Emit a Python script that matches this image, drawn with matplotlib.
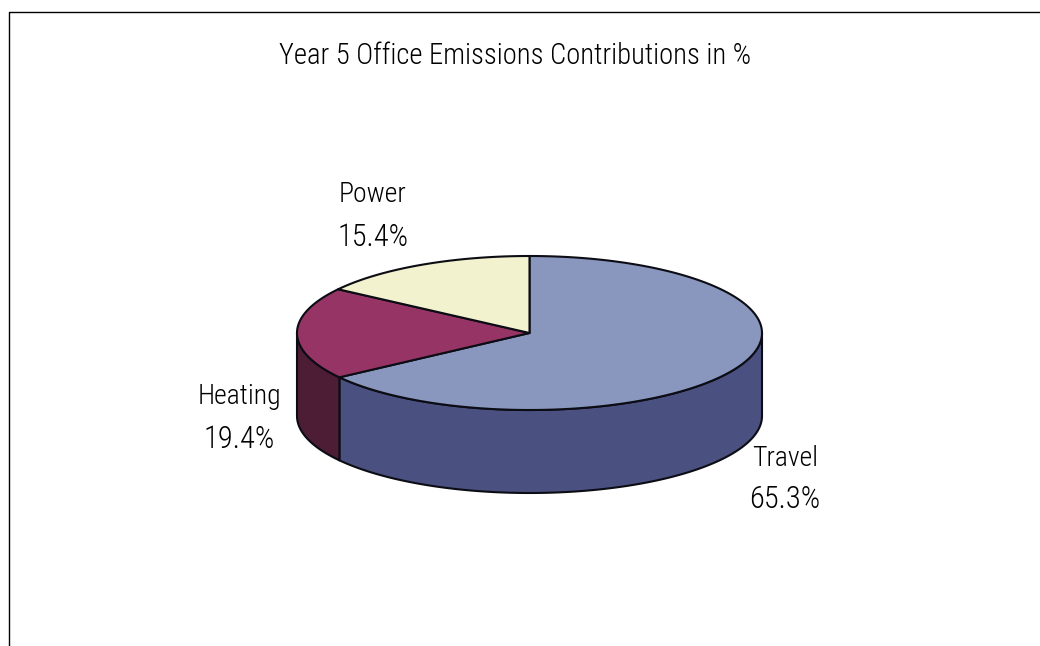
import numpy as np
import matplotlib
matplotlib.use("Agg")
import matplotlib.pyplot as plt
from matplotlib import font_manager as fm
from matplotlib.patches import Polygon

title = "Year 5 Office Emissions Contributions in %"
categories = ["Travel", "Heating", "Power"]
values = [65.3, 19.4, 15.4]
value_labels = ["65.3%", "19.4%", "15.4%"]
top_colors = ["#8997BE", "#963565", "#F2F2CE"]
side_colors = ["#4A5080", "#4D1D36", "#8A8A70"]
label_pos = [(785, 478), (239.5, 417), (372.5, 215)]

names = {f.name for f in fm.fontManager.ttflist}
family = next((n for n in ["Roboto Condensed", "Open Sans Condensed", "Lato"] if n in names), "Liberation Sans")
plt.rcParams["font.family"] = [family, "DejaVu Sans"]

CX, CY, RX, RY, DEPTH = 529.5, 333, 232.5, 77, 83
EDGE = "#0c0c14"

fig = plt.figure(figsize=(10.4, 6.46), dpi=100)
ax = fig.add_axes([0, 0, 1, 1])
ax.set_xlim(0, 1040)
ax.set_ylim(646, 0)
ax.axis("off")

def pt(a, dy=0):
    """a: degrees clockwise from 12 o'clock on the ellipse"""
    a = np.radians(a)
    return np.column_stack([CX + RX * np.sin(a), CY - RY * np.cos(a) + dy])

ax.plot([9, 9, 1040], [646, 12, 12], color="#000000", lw=1.0, solid_capstyle="butt")

fracs = np.array(values) / sum(values) * 360
starts = np.concatenate([[0], np.cumsum(fracs)[:-1]])

for s, f, c in zip(starts, fracs, side_colors):
    a0, a1 = max(s, 90), min(s + f, 270)
    if a1 <= a0:
        continue
    t = np.linspace(a0, a1, 200)
    top = pt(t)
    bot = pt(t[::-1], DEPTH)
    ax.add_patch(Polygon(np.vstack([top, bot]), closed=True, fc=c, ec=EDGE, lw=1.5, joinstyle="round", zorder=2))

for s, f, c in zip(starts, fracs, top_colors):
    t = np.linspace(s, s + f, 300)
    arc = pt(t)
    ax.add_patch(Polygon(np.vstack([[CX, CY], arc]), closed=True, fc=c, ec=EDGE, lw=1.5, joinstyle="round", zorder=3))

ax.text(515.5, 56, title, ha="center", va="center", fontsize=20.6, color="#000000", fontweight="light")
for (x, y), n, v in zip(label_pos, categories, value_labels):
    ax.text(x, y - 20, n, ha="center", va="center", fontsize=20, color="#000000", fontweight="light")
    ax.text(x, y + 22, v, ha="center", va="center", fontsize=22, color="#000000", fontweight="light")

fig.savefig("out.png", dpi=100)
